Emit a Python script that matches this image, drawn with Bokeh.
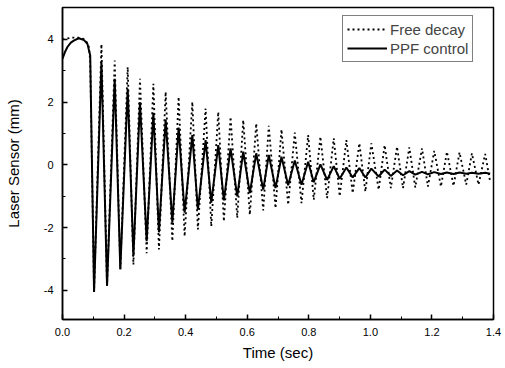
from bokeh.plotting import figure
from bokeh.models import Range1d, Legend, LegendItem, FixedTicker, NumeralTickFormatter
from bokeh.embed import file_html
from bokeh.resources import INLINE

# ---- data ----
# opening segment (before the first trough)
free_start_t = [0.0, 0.015, 0.030, 0.050, 0.069, 0.080, 0.086, 0.090]
free_start_y = [4.00, 4.03, 4.06, 4.06, 4.02, 3.90, 3.76, 3.30]
ppf_start_t = [0.0, 0.008, 0.016, 0.027, 0.038, 0.053, 0.070, 0.081, 0.090]
ppf_start_y = [3.39, 3.60, 3.76, 3.90, 3.97, 4.04, 3.98, 3.86, 3.49]

# times of the oscillation troughs and peaks (sec)
trough_t = [0.1025, 0.1447, 0.1878, 0.2303, 0.2734, 0.3133, 0.3568, 0.3967,
            0.4398, 0.4833, 0.5242, 0.5676, 0.6085, 0.6520, 0.6919, 0.7330,
            0.7763, 0.8161, 0.8595, 0.9004, 0.9426, 0.9838, 1.0269, 1.0665,
            1.1061, 1.1459, 1.1871, 1.2293, 1.2702, 1.3114, 1.3513, 1.3893]
peak_t = [0.1265, 0.1696, 0.2118, 0.2517, 0.2952, 0.3351, 0.3772, 0.4217,
          0.4648, 0.5060, 0.5459, 0.5871, 0.6293, 0.6701, 0.7113, 0.7545,
          0.7979, 0.8378, 0.8810, 0.9221, 0.9643, 1.0032, 1.0464, 1.0866,
          1.1265, 1.1677, 1.2076, 1.2488, 1.2896, 1.3299, 1.3730]

free_trough = [-4.05, -3.85, -3.33, -3.18, -2.82, -2.70, -2.43, -2.28,
               -2.06, -1.96, -1.80, -1.69, -1.59, -1.45, -1.38, -1.27,
               -1.22, -1.11, -1.06, -1.00, -0.90, -0.85, -0.79, -0.74,
               -0.74, -0.72, -0.69, -0.69, -0.67, -0.63, -0.63, -0.55]
free_peak = [3.85, 3.33, 3.12, 2.75, 2.59, 2.33, 2.17, 2.01,
             1.80, 1.69, 1.53, 1.43, 1.32, 1.25, 1.13, 1.03,
             0.95, 0.90, 0.85, 0.79, 0.69, 0.69, 0.63, 0.58,
             0.56, 0.53, 0.45, 0.42, 0.40, 0.37, 0.35]

ppf_trough = [-4.05, -3.85, -3.33, -2.90, -2.43, -2.15, -1.84, -1.52,
              -1.43, -1.20, -1.13, -1.00, -0.90, -0.79, -0.74, -0.65,
              -0.63, -0.55, -0.48, -0.44, -0.40, -0.40, -0.37, -0.35,
              -0.33, -0.31, -0.30, -0.29, -0.29, -0.28, -0.28, -0.28]
ppf_peak = [3.28, 2.75, 2.43, 2.00, 1.66, 1.45, 1.19, 0.95,
            0.79, 0.63, 0.53, 0.42, 0.37, 0.32, 0.26, 0.14,
            0.10, 0.02, -0.04, -0.08, -0.10, -0.12, -0.15, -0.18,
            -0.20, -0.22, -0.23, -0.24, -0.24, -0.25, -0.25]

x_ticks = [0.0, 0.2, 0.4, 0.6, 0.8, 1.0, 1.2, 1.4]
x_minor = [0.1, 0.3, 0.5, 0.7, 0.9, 1.1, 1.3]
y_ticks = [-4, -2, 0, 2, 4]
y_tick_labels = ["-4", "-2", "0", "2", "4"]
y_minor = [-3, -1, 1, 3]

x_label = "Time (sec)"
y_label = "Laser Sensor (mm)"
legend_labels = ["Free decay", "PPF control"]


def build(start_t, start_y, troughs, peaks):
    t = list(start_t)
    y = list(start_y)
    for i in range(len(trough_t)):
        t.append(trough_t[i]); y.append(troughs[i])
        if i < len(peak_t):
            t.append(peak_t[i]); y.append(peaks[i])
    return t, y


free_x, free_y = build(free_start_t, free_start_y, free_trough, free_peak)
ppf_x, ppf_y = build(ppf_start_t, ppf_start_y, ppf_trough, ppf_peak)

FONT = "Liberation Sans"

p = figure(width=505, height=368, output_backend="svg", toolbar_location=None,
           x_range=Range1d(0, 1.4), y_range=Range1d(-4.93, 5.02))
p.min_border_left = 62
p.min_border_right = 12
p.min_border_top = 7
p.min_border_bottom = 49
p.background_fill_color = "white"
p.border_fill_color = "white"
p.outline_line_color = "black"
p.outline_line_width = 1.5
p.grid.visible = False

r_free = p.line(free_x, free_y, line_color="black", line_width=1.8, line_dash="2 3")
r_ppf = p.line(ppf_x, ppf_y, line_color="black", line_width=2)

p.xaxis.ticker = FixedTicker(ticks=x_ticks, minor_ticks=x_minor)
p.xaxis.formatter = NumeralTickFormatter(format="0.0")
p.yaxis.ticker = FixedTicker(ticks=y_ticks, minor_ticks=y_minor)
p.yaxis.major_label_overrides = {t: s for t, s in zip(y_ticks, y_tick_labels)}

for ax in (p.xaxis[0], p.yaxis[0]):
    ax.axis_line_color = "black"
    ax.axis_line_width = 1.5
    ax.major_tick_in = 5
    ax.major_tick_out = 0
    ax.minor_tick_in = 3
    ax.minor_tick_out = 0
    ax.major_tick_line_width = 1.5
    ax.minor_tick_line_width = 1
    ax.major_label_text_font = FONT
    ax.major_label_text_font_size = "11px"
    ax.major_label_text_color = "black"
    ax.axis_label_text_font = FONT
    ax.axis_label_text_font_size = "15px"
    ax.axis_label_text_font_style = "normal"
    ax.axis_label_text_color = "black"

p.xaxis.axis_label = x_label
p.yaxis.axis_label = y_label
p.xaxis.major_label_standoff = 8
p.xaxis.axis_label_standoff = 5
p.yaxis.major_label_standoff = 9
p.yaxis.axis_label_standoff = 19

legend = Legend(items=[LegendItem(label=legend_labels[0], renderers=[r_free]),
                       LegendItem(label=legend_labels[1], renderers=[r_ppf])],
                location=(280, 257))
legend.border_line_color = "black"
legend.border_line_width = 1
legend.background_fill_color = "white"
legend.background_fill_alpha = 1
legend.label_text_font = FONT
legend.label_text_font_size = "15px"
legend.glyph_width = 40
legend.glyph_height = 18
legend.label_height = 18
legend.label_standoff = 3
legend.spacing = 1
legend.padding = 4
legend.margin = 0
p.add_layout(legend, "center")

open("out.html", "w").write(file_html(p, INLINE))
